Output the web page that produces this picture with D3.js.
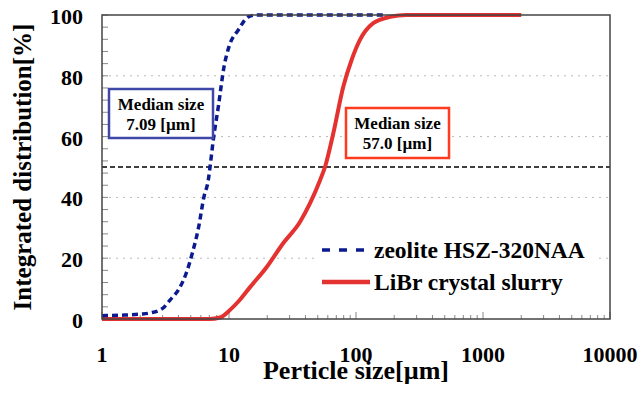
<!DOCTYPE html>
<html>
<head>
<meta charset="utf-8">
<script src="https://cdn.jsdelivr.net/npm/d3@7"></script>
<style>
  html, body { margin: 0; padding: 0; background: #fff; }
  svg { display: block; }
  text { font-family: "Liberation Serif", "Times New Roman", serif; font-weight: bold; fill: #000; }
</style>
</head>
<body>
<svg id="chart" width="641" height="394"></svg>
<script>
// Cumulative particle size distributions
const zeoliteSize = [1, 1.5, 2, 2.4, 3, 3.43, 4.04, 4.58, 5.17, 5.74, 6.35, 6.87, 7.09, 7.52, 8.24, 9.14, 10.0, 11.8, 14.2, 16.5, 20, 50, 100, 175];
const zeoliteCum  = [1.1, 1.3, 1.6, 2.0, 3.5, 6.2, 9.9, 14.8, 22, 29.8, 40.2, 45.7, 50, 58.9, 69.8, 83, 89.6, 95, 99.4, 100, 100, 100, 100, 100];

const librSize = [1, 3, 7, 8.5, 10.2, 12, 14.6, 19.9, 26.7, 36.3, 43.4, 52.2, 57, 66.2, 79.4, 92.3, 107.4, 136.7, 186, 250, 500, 1000, 2000];
const librCum  = [0, 0, 0, 0.5, 3, 6, 10.4, 17.2, 24.9, 32, 38, 45.7, 50, 61, 76.4, 85.2, 91.8, 97.3, 99.4, 100, 100, 100, 100];

const xTicks = [1, 10, 100, 1000, 10000];
const yTicks = [0, 20, 40, 60, 80, 100];
const seriesNames = ["zeolite HSZ-320NAA", "LiBr crystal slurry"];
const medianZeolite = 7.09;
const medianLiBr = 57.0;
const medianLevel = 50;

const svg = d3.select("#chart");
const m = { left: 102, top: 15, right: 610, bottom: 319 };

const x = d3.scaleLog().domain([1, 10000]).range([m.left, m.right]);
const y = d3.scaleLinear().domain([0, 100]).range([m.bottom, m.top]);

// Horizontal dotted grid
svg.append("g").selectAll("line")
  .data(yTicks.filter(v => v > 0 && v < 100))
  .join("line")
  .attr("x1", m.left).attr("x2", m.right)
  .attr("y1", d => y(d)).attr("y2", d => y(d))
  .attr("stroke", "#b8b8b8").attr("stroke-width", 1)
  .attr("stroke-dasharray", "2,5");

// 50 % reference line
svg.append("line")
  .attr("x1", m.left).attr("x2", m.right)
  .attr("y1", y(medianLevel)).attr("y2", y(medianLevel))
  .attr("stroke", "#000").attr("stroke-width", 1.4)
  .attr("stroke-dasharray", "5,3");

// Minor ticks on the y axis (every 4 %), pointing inward
svg.append("g").selectAll("line")
  .data(d3.range(0, 101, 4))
  .join("line")
  .attr("x1", m.left).attr("x2", m.left + 6)
  .attr("y1", d => y(d)).attr("y2", d => y(d))
  .attr("stroke", "#888").attr("stroke-width", 1);

// Ticks on the log x axis, pointing inward
const xMinor = [];
for (let dec = 1; dec < 10000; dec *= 10) {
  for (let k = 1; k < 10; k++) xMinor.push(dec * k);
}
xMinor.push(10000);
svg.append("g").selectAll("line")
  .data(xMinor)
  .join("line")
  .attr("x1", d => x(d)).attr("x2", d => x(d))
  .attr("y1", m.bottom).attr("y2", d => xTicks.includes(d) ? m.bottom - 7 : m.bottom - 4)
  .attr("stroke", "#888").attr("stroke-width", 1);

// Curves
const line = d3.line().curve(d3.curveMonotoneX);

svg.append("path")
  .attr("d", line(librSize.map((s, i) => [x(s), y(librCum[i])])))
  .attr("fill", "none").attr("stroke", "#e3322f").attr("stroke-width", 4)
  .attr("stroke-linejoin", "round");

svg.append("path")
  .attr("d", line(zeoliteSize.map((s, i) => [x(s), y(zeoliteCum[i])])))
  .attr("fill", "none").attr("stroke", "#0b1a8e").attr("stroke-width", 3.5)
  .attr("stroke-dasharray", "6,4");

// Plot frame
svg.append("rect")
  .attr("x", m.left).attr("y", m.top)
  .attr("width", m.right - m.left).attr("height", m.bottom - m.top)
  .attr("fill", "none").attr("stroke", "#444").attr("stroke-width", 1.5);

// Axis labels
svg.append("g").selectAll("text")
  .data(yTicks)
  .join("text")
  .attr("x", 83).attr("y", d => y(d) + 9)
  .attr("text-anchor", "end")
  .attr("font-size", 22)
  .text(d => d);

svg.append("g").selectAll("text")
  .data(xTicks)
  .join("text")
  .attr("x", d => x(d)).attr("y", 362)
  .attr("text-anchor", "middle")
  .attr("font-size", 22)
  .text(d => d);

svg.append("text")
  .attr("x", 356).attr("y", 379)
  .attr("text-anchor", "middle")
  .attr("font-size", 26)
  .text("Perticle size[µm]");

svg.append("text")
  .attr("transform", "translate(31,167) rotate(-90)")
  .attr("text-anchor", "middle")
  .attr("font-size", 25)
  .text("Integrated distribution[%]");

// Legend
const lg = svg.append("g");
lg.append("rect")
  .attr("x", 316).attr("y", 228).attr("width", 278).attr("height", 72)
  .attr("fill", "#fff");
lg.append("line")
  .attr("x1", 322).attr("x2", 370).attr("y1", 250).attr("y2", 250)
  .attr("stroke", "#0b1a8e").attr("stroke-width", 3.5)
  .attr("stroke-dasharray", "8,9");
lg.append("line")
  .attr("x1", 322).attr("x2", 370).attr("y1", 282).attr("y2", 282)
  .attr("stroke", "#e3322f").attr("stroke-width", 4.5);
lg.selectAll("text")
  .data(seriesNames)
  .join("text")
  .attr("x", 374).attr("y", (d, i) => 258 + i * 32)
  .attr("font-size", 23.5)
  .text(d => d);

// Median annotations
function medianBox(cx, top, w, h, color, value) {
  const g = svg.append("g");
  g.append("rect")
    .attr("x", cx - w / 2).attr("y", top).attr("width", w).attr("height", h)
    .attr("fill", "#fff").attr("stroke", color).attr("stroke-width", 2.5);
  g.append("text")
    .attr("x", cx).attr("y", top + 21)
    .attr("text-anchor", "middle").attr("font-size", 17)
    .text("Median size");
  g.append("text")
    .attr("x", cx).attr("y", top + 41)
    .attr("text-anchor", "middle").attr("font-size", 17)
    .text(value + " [µm]");
}
medianBox(161, 89, 104, 49, "#3f48a6", medianZeolite.toFixed(2));
medianBox(397.5, 108, 103, 50, "#ff3b1f", medianLiBr.toFixed(1));
</script>
</body>
</html>
